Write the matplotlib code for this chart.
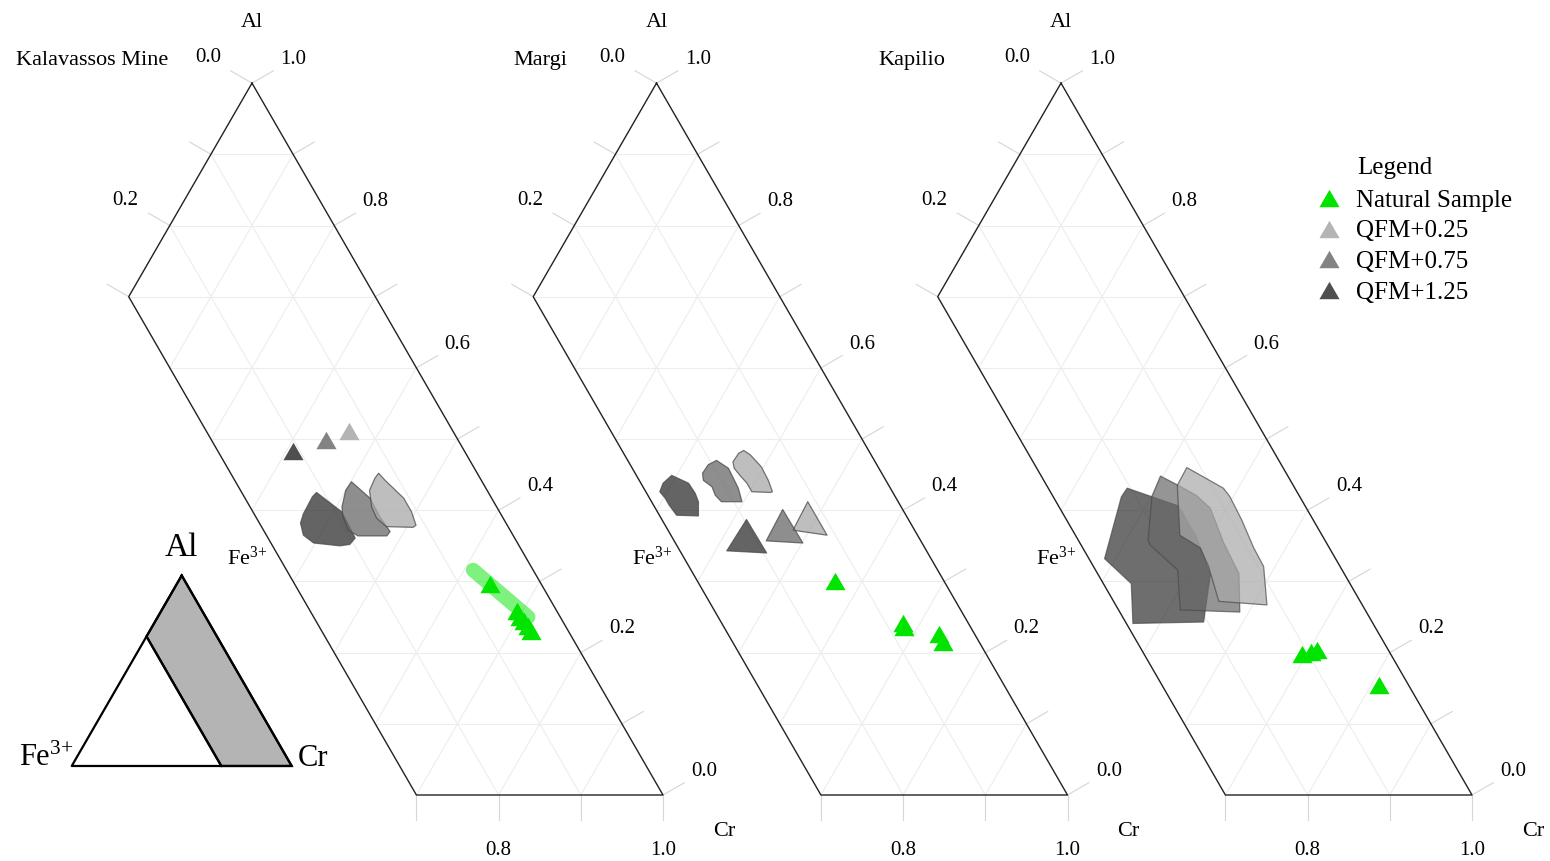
import numpy as np
import matplotlib.pyplot as plt
from matplotlib.lines import Line2D
from matplotlib.patches import Polygon

plt.rcParams['font.family'] = ['Liberation Serif', 'DejaVu Serif']
plt.rcParams['mathtext.fontset'] = 'custom'
plt.rcParams['mathtext.rm'] = 'Liberation Serif'
plt.rcParams['mathtext.it'] = 'Liberation Serif:italic'

# ---- data: ternary fractions (Al, Cr); Fe3+ = 1 - Al - Cr ----
PANEL_NAMES = ["Kalavassos Mine", "Margi", "Kapilio"]
SERIES_NAMES = ["Natural Sample", "QFM+0.25", "QFM+0.75", "QFM+1.25"]

# Kalavassos Mine
kal_nat_al = [0.296, 0.258, 0.250, 0.244, 0.237, 0.230]
kal_nat_cr = [0.642, 0.693, 0.701, 0.709, 0.717, 0.724]
kal_band_al = [0.316, 0.250]
kal_band_cr = [0.611, 0.711]
kal_run_al = [0.511, 0.499, 0.483]          # QFM+0.25, +0.75, +1.25
kal_run_cr = [0.363, 0.341, 0.308]
kal_q025_al = [0.452, 0.442, 0.417, 0.398, 0.379, 0.376, 0.377, 0.389, 0.405, 0.428, 0.445]
kal_q025_cr = [0.428, 0.441, 0.476, 0.495, 0.510, 0.508, 0.475, 0.457, 0.443, 0.429, 0.427]
kal_q075_al = [0.440, 0.417, 0.391, 0.370, 0.364, 0.364, 0.372, 0.391, 0.405, 0.428]
kal_q075_cr = [0.401, 0.435, 0.460, 0.483, 0.482, 0.447, 0.431, 0.415, 0.407, 0.400]
kal_q125_al = [0.425, 0.398, 0.361, 0.352, 0.350, 0.354, 0.365, 0.382, 0.395, 0.419]
kal_q125_cr = [0.366, 0.410, 0.445, 0.443, 0.432, 0.398, 0.380, 0.368, 0.365, 0.364]

# Margi
mar_nat_al = [0.301, 0.242, 0.236, 0.226, 0.215]
mar_nat_cr = [0.567, 0.679, 0.683, 0.731, 0.741]
mar_q025_al = [0.484, 0.478, 0.461, 0.442, 0.426, 0.425, 0.426, 0.438, 0.449, 0.459, 0.468, 0.480]
mar_q025_cr = [0.364, 0.375, 0.397, 0.415, 0.428, 0.426, 0.403, 0.391, 0.377, 0.365, 0.359, 0.360]
mar_q075_al = [0.470, 0.459, 0.445, 0.431, 0.412, 0.412, 0.421, 0.433, 0.442, 0.452, 0.464]
mar_q075_cr = [0.338, 0.358, 0.371, 0.384, 0.398, 0.373, 0.361, 0.351, 0.336, 0.330, 0.331]
mar_q125_al = [0.449, 0.438, 0.424, 0.412, 0.392, 0.393, 0.407, 0.417, 0.426, 0.438]
mar_q125_cr = [0.294, 0.320, 0.335, 0.345, 0.355, 0.328, 0.312, 0.302, 0.291, 0.289]
mar_t025_al = [0.412, 0.372, 0.365]
mar_t025_cr = [0.478, 0.480, 0.525]
mar_t075_al = [0.401, 0.357, 0.354]
mar_t075_cr = [0.453, 0.455, 0.501]
mar_t125_al = [0.387, 0.343, 0.340]
mar_t125_cr = [0.416, 0.414, 0.464]

# Kapilio
kap_nat_al = [0.198, 0.201, 0.204, 0.155]
kap_nat_cr = [0.694, 0.704, 0.709, 0.809]
kap_q025_al = [0.460, 0.431, 0.419, 0.386, 0.347, 0.321, 0.267, 0.272, 0.321, 0.347, 0.365, 0.435]
kap_q025_cr = [0.423, 0.482, 0.496, 0.527, 0.561, 0.586, 0.617, 0.556, 0.519, 0.496, 0.462, 0.424]
kap_q075_al = [0.448, 0.435, 0.421, 0.403, 0.354, 0.311, 0.257, 0.260, 0.316, 0.351, 0.358, 0.419]
kap_q075_cr = [0.397, 0.425, 0.454, 0.480, 0.521, 0.561, 0.589, 0.515, 0.484, 0.433, 0.427, 0.401]
kap_q125_al = [0.431, 0.406, 0.363, 0.309, 0.243, 0.241, 0.297, 0.332, 0.419]
kap_q125_cr = [0.365, 0.440, 0.483, 0.527, 0.552, 0.467, 0.437, 0.387, 0.364]

# axis ticks
AL_TICKS = np.round(np.arange(0.0, 1.01, 0.1), 1)
AL_LABELS = [0.0, 0.2, 0.4, 0.6, 0.8, 1.0]
FE_TICKS = [0.0, 0.1, 0.2, 0.3]
FE_LABELS = [0.0, 0.2]
CR_TICKS = [0.7, 0.8, 0.9, 1.0]
CR_LABELS = [0.8, 1.0]
GRID = np.round(np.arange(0.1, 0.95, 0.1), 1)

FE_MAX = 0.3        # panels only show Fe3+ <= 0.3
INSET_FE = 0.32

# ---- styles ----
GREEN = '#00e400'
MARK_GREY = ['#b4b4b4', '#838383', '#4f4f4f']
FILL_GREY = ['#a9a9a9', '#696969', '#303030']
EDGE = '#4a4a4a'
GRID_C = '#ededed'
TICK_C = '#d6d6d6'
TRI = [(-1, -0.866), (1, -0.866), (0, 0.866)]

SQ3 = np.sqrt(3) / 2
SHIFT = 0.4921       # spacing of panels in triangle-side units
FS = 16


def tern(al, cr, panel=0):
    al = np.asarray(al, float)
    cr = np.asarray(cr, float)
    return cr + al / 2 + panel * SHIFT, al * SQ3


fig = plt.figure(figsize=(15.5, 8.61), dpi=100)
ax = fig.add_axes([0, 0, 1, 1])
ax.set_xlim(0.19343, 2.07908)
ax.set_ylim(-0.08029, 0.96715)
ax.axis('off')


def draw_frame(p, title, title_dx):
    # light triangular grid
    for g in GRID:
        x, y = tern([g, g], [1 - g, max(0.7 - g, 0)], p)
        ax.plot(x, y, color=GRID_C, lw=0.8, zorder=1)
        x, y = tern([1 - g, max(0.7 - g, 0)], [g, g], p)
        ax.plot(x, y, color=GRID_C, lw=0.8, zorder=1)
    for f in [0.1, 0.2]:
        x, y = tern([1 - f, 0], [0, 1 - f], p)
        ax.plot(x, y, color=GRID_C, lw=0.8, zorder=1)

    # outline of the Fe3+-poor band
    x, y = tern([1, 0, 0, 1 - FE_MAX, 1], [0, 1, 1 - FE_MAX, 0, 0], p)
    ax.plot(x, y, color='#222222', lw=1.0, zorder=3)

    L, D = 0.03, 0.058
    c30, s30 = np.cos(np.pi / 6), np.sin(np.pi / 6)
    # Al axis on the Al-Cr edge
    for a in AL_TICKS:
        x, y = tern(a, 1 - a, p)
        ax.plot([x, x + L * c30], [y, y + L * s30], color=TICK_C, lw=0.8, zorder=1)
        if a in AL_LABELS:
            ax.text(x + D * c30, y + D * s30, f"{a:.1f}", ha='center', va='center', fontsize=15)
    # Fe3+ axis on the Al-Fe edge
    for f in FE_TICKS:
        x, y = tern(1 - f, 0, p)
        ax.plot([x, x - L * c30], [y, y + L * s30], color=TICK_C, lw=0.8, zorder=1)
        if f in FE_LABELS:
            ax.text(x - (D + 0.004) * c30, y + (D + 0.004) * s30, f"{f:.1f}",
                    ha='center', va='center', fontsize=15)
    # Cr axis on the base
    for c in CR_TICKS:
        x, y = tern(0, c, p)
        ax.plot([x, x], [y, y - L], color=TICK_C, lw=0.8, zorder=1)
        if c in CR_LABELS:
            ax.text(x, y - 0.067, f"{c:.1f}", ha='center', va='center', fontsize=15)

    x, y = tern(1, 0, p)
    ax.text(x, y + 0.074, "Al", ha='center', va='center', fontsize=FS)
    ax.text(x + title_dx, y + 0.028, title, ha='right', va='center', fontsize=FS)
    x, y = tern(0, 1, p)
    ax.text(x + 0.074, y - 0.045, "Cr", ha='center', va='center', fontsize=FS)
    x, y = tern(0.335, 1 - FE_MAX - 0.335, p)
    ax.text(x - 0.014, y - 0.002, r"Fe$^{3{+}}$", ha='right', va='center', fontsize=FS)


def field(p, al, cr, k, alpha=0.75):
    x, y = tern(al, cr, p)
    ax.add_patch(Polygon(np.column_stack([x, y]), closed=True, facecolor=FILL_GREY[k],
                         edgecolor=EDGE, lw=0.9, alpha=alpha, joinstyle='round', zorder=4))


def natural(p, al, cr):
    x, y = tern(al, cr, p)
    ax.plot(x, y, linestyle='none', marker=TRI, markersize=14.5, color=GREEN,
            markeredgewidth=0, zorder=6)


TITLE_DX = [-0.102, -0.108, -0.141]
for p, name in enumerate(PANEL_NAMES):
    draw_frame(p, name, TITLE_DX[p])

# Kalavassos Mine
field(0, kal_q125_al, kal_q125_cr, 2)
field(0, kal_q075_al, kal_q075_cr, 1)
field(0, kal_q025_al, kal_q025_cr, 0)
for k in range(3):
    x, y = tern(kal_run_al[k], kal_run_cr[k], 0)
    ax.plot(x, y, linestyle='none', marker=TRI, markersize=14.5, color=MARK_GREY[k],
            markeredgewidth=0, zorder=6)
x, y = tern(kal_band_al, kal_band_cr, 0)
ax.plot(x, y, color=GREEN, lw=10.5, alpha=0.5, solid_capstyle='round', zorder=5)
natural(0, kal_nat_al, kal_nat_cr)

# Margi
field(1, mar_q125_al, mar_q125_cr, 2)
field(1, mar_q075_al, mar_q075_cr, 1)
field(1, mar_q025_al, mar_q025_cr, 0)
field(1, mar_t025_al, mar_t025_cr, 0)
field(1, mar_t075_al, mar_t075_cr, 1)
field(1, mar_t125_al, mar_t125_cr, 2)
natural(1, mar_nat_al, mar_nat_cr)

# Kapilio
field(2, kap_q125_al, kap_q125_cr, 2, 0.7)
field(2, kap_q075_al, kap_q075_cr, 1, 0.7)
field(2, kap_q025_al, kap_q025_cr, 0, 0.7)
natural(2, kap_nat_al, kap_nat_cr)

# inset showing which part of the Al-Cr-Fe3+ triangle is plotted
IX, IY, IS = 0.2807, 0.0353, 0.2676


def inset(al, cr):
    al = np.asarray(al, float)
    cr = np.asarray(cr, float)
    return IX + IS * (cr + al / 2), IY + IS * al * SQ3


x, y = inset([1, 0, 0, 1 - INSET_FE], [0, 1, 1 - INSET_FE, 0])
ax.add_patch(Polygon(np.column_stack([x, y]), closed=True, facecolor='#b4b4b4',
                     edgecolor='black', lw=1.6, zorder=3))
x, y = inset([1, 0, 0, 1], [0, 0, 1, 0])
ax.plot(x, y, color='black', lw=1.6, zorder=4)
x, y = inset([1 - INSET_FE, 0], [0, 1 - INSET_FE])
ax.plot(x, y, color='black', lw=1.6, zorder=4)
x, y = inset(1, 0)
ax.text(x, y + 0.034, "Al", ha='center', va='center', fontsize=24)
x, y = inset(0, 0)
ax.text(x + 0.002, y, r"Fe$^{3{+}}$", ha='right', va='baseline', fontsize=22)
x, y = inset(0, 1)
ax.text(x + 0.007, y, "Cr", ha='left', va='baseline', fontsize=22)

# legend
handles = [Line2D([], [], linestyle='none', marker=TRI, markersize=14.5,
                  markeredgewidth=0, color=c) for c in [GREEN] + MARK_GREY]
ax.legend(handles, SERIES_NAMES, loc='upper left', bbox_to_anchor=(1318 / 1550, 1 - 189 / 861),
          frameon=False, fontsize=18, handlelength=0.9, handletextpad=0.62,
          labelspacing=0.33, borderpad=0, borderaxespad=0)
ax.text(1357 / 1550, 1 - 168 / 861, "Legend", transform=ax.transAxes,
        ha='left', va='center', fontsize=18)

fig.savefig("out.png", dpi=100)
